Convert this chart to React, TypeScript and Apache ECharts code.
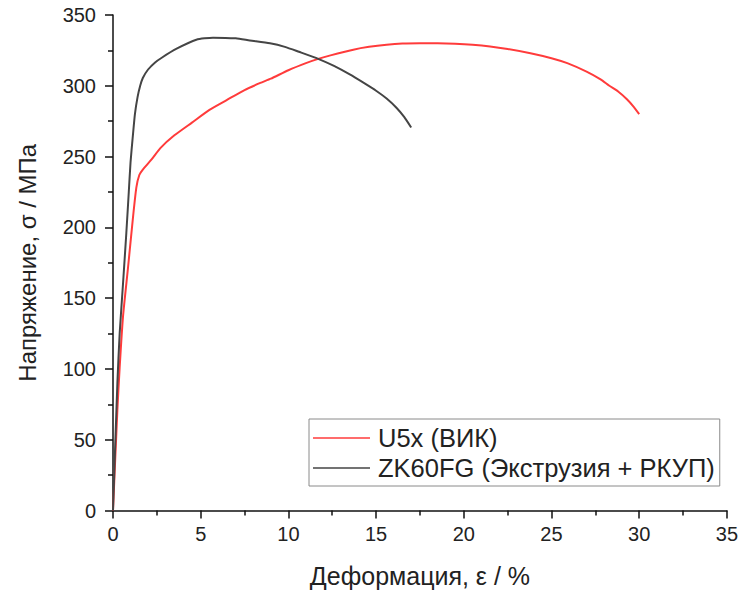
import React, { useEffect, useRef } from "react";
import * as echarts from "echarts";

// Stress–strain curves: strain ε (%) vs stress σ (MPa)
const u5xStrain = [0, 0.25, 0.38, 0.57, 0.86, 1.14, 1.33, 1.5, 1.71, 2.2, 2.7, 3.5, 4.5, 5.5, 6.5, 7.5, 8.4, 9.0, 10.0, 11.0, 11.7, 12.4, 13.7, 14.6, 15.6, 16.5, 17.5, 18.5, 19.5, 20.5, 21.5, 22.5, 23.8, 25.0, 25.9, 27.0, 27.8, 28.3, 28.8, 29.3, 29.7, 30.0];
const u5xStress = [0, 71, 101, 137, 172, 207, 228, 237, 241, 248, 256, 265, 274, 283, 290, 297, 302, 305, 311, 316, 319, 321.5, 325.5, 327.5, 329, 329.8, 330, 330, 329.7, 329, 327.8, 326, 323, 319.5, 316, 310, 304.5, 300, 296, 290.5, 285, 280];

const zkStrain = [0, 0.25, 0.38, 0.57, 0.76, 0.9, 1.0, 1.12, 1.25, 1.4, 1.55, 1.7, 2.0, 2.4, 2.8, 3.6, 4.75, 5.7, 7.0, 7.8, 8.95, 9.8, 10.6, 11.7, 12.6, 13.5, 14.3, 15.0, 15.6, 16.16, 16.6, 17.0];
const zkStress = [0, 90, 125, 160, 196, 225, 246, 263, 280, 292, 300, 305.5, 311.5, 316.5, 320, 326, 332.5, 334, 333.5, 332, 330, 327.5, 324, 319, 314, 308, 302, 296.5, 291, 284.5, 278, 270.5];

const seriesNames = ["U5x (ВИК)", "ZK60FG (Экструзия + РКУП)"];
const seriesColors = ["#ff3b3b", "#454545"];

const xTitle = "Деформация, ε / %";
const yTitle = "Напряжение, σ / МПа";

const pairs = (xs: number[], ys: number[]) => xs.map((x, i) => [x, ys[i]]);

const FONT = "'Liberation Sans', Arial, sans-serif";

export default function App() {
  const ref = useRef<HTMLDivElement>(null);

  useEffect(() => {
    if (!ref.current) return;
    const chart = echarts.init(ref.current, undefined, { renderer: "svg" });

    const axisCommon = {
      axisLine: { show: true, lineStyle: { color: "#111", width: 1.5 } },
      axisTick: { show: true, inside: false, length: 8, lineStyle: { color: "#111", width: 1.5 } },
      minorTick: { show: true, splitNumber: 2, length: 5, lineStyle: { color: "#111", width: 1.5 } },
      splitLine: { show: false },
      axisLabel: { color: "#222", fontSize: 20, fontFamily: FONT },
    };

    chart.setOption({
      animation: false,
      backgroundColor: "#fff",
      grid: { left: 113, right: 14, top: 15, bottom: 85.5, containLabel: false },
      xAxis: {
        type: "value",
        min: 0,
        max: 35,
        interval: 5,
        name: xTitle,
        nameLocation: "middle",
        nameGap: 53,
        nameTextStyle: { color: "#222", fontSize: 25, fontFamily: FONT },
        ...axisCommon,
        axisLabel: { ...axisCommon.axisLabel, margin: 13 },
      },
      yAxis: {
        type: "value",
        min: 0,
        max: 350,
        interval: 50,
        name: yTitle,
        nameLocation: "middle",
        nameGap: 74,
        nameTextStyle: { color: "#222", fontSize: 24, fontFamily: FONT },
        ...axisCommon,
        axisLabel: { ...axisCommon.axisLabel, margin: 17 },
      },
      legend: {
        show: true,
        orient: "vertical",
        left: 309,
        top: 419,
        padding: [6, 5, 5, 4],
        itemGap: 4,
        itemWidth: 57,
        itemHeight: 1.5,
        icon: "rect",
        borderColor: "#8a8a8a",
        borderWidth: 1,
        textStyle: { color: "#222", fontSize: 25.5, fontFamily: FONT, padding: [0, 0, 0, 3] },
        data: seriesNames,
      },
      series: [
        {
          name: seriesNames[0],
          type: "line",
          data: pairs(u5xStrain, u5xStress),
          symbol: "none",
          smooth: 0.2,
          lineStyle: { color: seriesColors[0], width: 2 },
          itemStyle: { color: seriesColors[0] },
          z: 2,
        },
        {
          name: seriesNames[1],
          type: "line",
          data: pairs(zkStrain, zkStress),
          symbol: "none",
          smooth: 0.2,
          lineStyle: { color: seriesColors[1], width: 2 },
          itemStyle: { color: seriesColors[1] },
          z: 3,
        },
      ],
    });

    return () => chart.dispose();
  }, []);

  return <div ref={ref} style={{ width: 741, height: 596, position: "absolute", left: 0, top: 0 }} />;
}
